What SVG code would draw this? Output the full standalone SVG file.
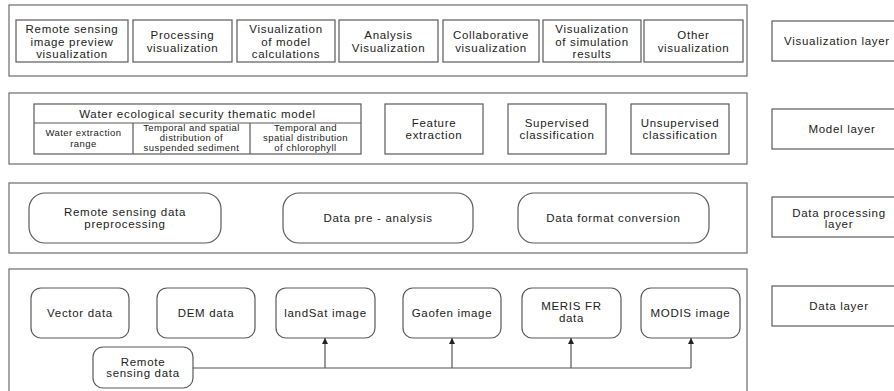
<svg xmlns="http://www.w3.org/2000/svg" width="894" height="391" viewBox="0 0 894 391">
<defs>
<style>
.outer{fill:none;stroke:#6b6b6b;stroke-width:1.2}
.box{fill:#fff;stroke:#5a5a5a;stroke-width:1.2}
.t{font-family:"Liberation Sans",Arial,sans-serif;font-size:11.5px;fill:#222;text-anchor:middle;letter-spacing:0.7px}
.s{font-family:"Liberation Sans",Arial,sans-serif;font-size:9.5px;fill:#222;text-anchor:middle;letter-spacing:0.45px}
.conn{fill:none;stroke:#555;stroke-width:1.2}
</style>
<marker id="arr" viewBox="0 0 10 10" refX="10" refY="5" markerWidth="6" markerHeight="6" orient="auto" markerUnits="userSpaceOnUse">
<path d="M0,0 L10,5 L0,10 z" fill="#222"/>
</marker>
</defs>
<rect width="894" height="391" fill="#fff"/>

<!-- Visualization layer -->
<g id="vis-layer">
<rect class="outer" x="9" y="5" width="738" height="71"/>
</g>
<g id="vis1"><rect class="box" x="16" y="20" width="112" height="42"/>
<text class="t" x="72" y="33">Remote sensing</text><text class="t" x="72" y="46">image preview</text><text class="t" x="72" y="58">visualization</text></g>
<g id="vis2"><rect class="box" x="133" y="20" width="99" height="42"/>
<text class="t" x="182.5" y="39">Processing</text><text class="t" x="182.5" y="52">visualization</text></g>
<g id="vis3"><rect class="box" x="237" y="20" width="98" height="42"/>
<text class="t" x="286" y="33">Visualization</text><text class="t" x="286" y="46">of model</text><text class="t" x="286" y="58">calculations</text></g>
<g id="vis4"><rect class="box" x="339" y="20" width="99" height="42"/>
<text class="t" x="388.5" y="39">Analysis</text><text class="t" x="388.5" y="52">Visualization</text></g>
<g id="vis5"><rect class="box" x="443" y="20" width="96" height="42"/>
<text class="t" x="491" y="39">Collaborative</text><text class="t" x="491" y="52">visualization</text></g>
<g id="vis6"><rect class="box" x="543" y="20" width="98" height="42"/>
<text class="t" x="592" y="33">Visualization</text><text class="t" x="592" y="46">of simulation</text><text class="t" x="592" y="58">results</text></g>
<g id="vis7"><rect class="box" x="644" y="20" width="99" height="42"/>
<text class="t" x="693.5" y="39">Other</text><text class="t" x="693.5" y="52">visualization</text></g>
<g id="label-vis"><rect class="box" x="772" y="21" width="130" height="40"/>
<text class="t" x="837" y="45">Visualization layer</text></g>

<!-- Model layer -->
<g id="model-layer"><rect class="outer" x="9" y="93" width="738" height="71"/></g>
<g id="wes-model">
<rect class="box" x="34" y="104" width="327" height="50"/>
<line class="box" x1="34" y1="123" x2="361" y2="123"/>
<line class="box" x1="133" y1="123" x2="133" y2="154"/>
<line class="box" x1="250" y1="123" x2="250" y2="154"/>
<text class="t" x="197.5" y="118">Water ecological security thematic model</text>
<text class="s" x="83.5" y="136">Water extraction</text><text class="s" x="83.5" y="147">range</text>
<text class="s" x="191.5" y="131">Temporal and spatial</text><text class="s" x="191.5" y="141">distribution of</text><text class="s" x="191.5" y="151">suspended sediment</text>
<text class="s" x="305.5" y="131">Temporal and</text><text class="s" x="305.5" y="141">spatial distribution</text><text class="s" x="305.5" y="151">of chlorophyll</text>
</g>
<g id="feature"><rect class="box" x="385" y="104" width="98" height="50"/>
<text class="t" x="434" y="127">Feature</text><text class="t" x="434" y="139">extraction</text></g>
<g id="supervised"><rect class="box" x="508" y="104" width="98" height="50"/>
<text class="t" x="557" y="127">Supervised</text><text class="t" x="557" y="139">classification</text></g>
<g id="unsupervised"><rect class="box" x="631" y="104" width="98" height="50"/>
<text class="t" x="680" y="127">Unsupervised</text><text class="t" x="680" y="139">classification</text></g>
<g id="label-model"><rect class="box" x="772" y="109" width="130" height="40"/>
<text class="t" x="842" y="133">Model layer</text></g>

<!-- Data processing layer -->
<g id="proc-layer"><rect class="outer" x="9" y="183" width="738" height="70"/></g>
<g id="rs-pre"><rect class="box" x="29" y="193" width="192" height="50" rx="16"/>
<text class="t" x="125" y="216">Remote sensing data</text><text class="t" x="125" y="228">preprocessing</text></g>
<g id="pre-analysis"><rect class="box" x="283" y="193" width="190" height="50" rx="16"/>
<text class="t" x="378" y="222">Data pre - analysis</text></g>
<g id="format-conv"><rect class="box" x="518" y="193" width="191" height="50" rx="16"/>
<text class="t" x="613.5" y="222">Data format conversion</text></g>
<g id="label-proc"><rect class="box" x="772" y="197" width="130" height="40"/>
<text class="t" x="839" y="217">Data processing</text><text class="t" x="839" y="228">layer</text></g>

<!-- Data layer -->
<g id="data-layer"><rect class="outer" x="9" y="269" width="738" height="130"/></g>
<g id="vector"><rect class="box" x="31" y="288" width="98" height="50" rx="10"/>
<text class="t" x="80" y="317">Vector data</text></g>
<g id="dem"><rect class="box" x="157" y="288" width="98" height="50" rx="10"/>
<text class="t" x="206" y="317">DEM data</text></g>
<g id="landsat"><rect class="box" x="276" y="288" width="99" height="50" rx="10"/>
<text class="t" x="325.5" y="317">landSat image</text></g>
<g id="gaofen"><rect class="box" x="403" y="288" width="98" height="50" rx="10"/>
<text class="t" x="452" y="317">Gaofen image</text></g>
<g id="meris"><rect class="box" x="522" y="288" width="99" height="50" rx="10"/>
<text class="t" x="571.5" y="310">MERIS FR</text><text class="t" x="571.5" y="322">data</text></g>
<g id="modis"><rect class="box" x="641" y="288" width="99" height="50" rx="10"/>
<text class="t" x="690.5" y="317">MODIS image</text></g>
<g id="rs-data"><rect class="box" x="93" y="347" width="100" height="41" rx="10"/>
<text class="t" x="143" y="366">Remote</text><text class="t" x="143" y="377">sensing data</text></g>
<g id="label-data"><rect class="box" x="772" y="286" width="130" height="40"/>
<text class="t" x="839" y="310">Data layer</text></g>

<g id="connectors">
<polyline class="conn" points="193,368 691,368"/>
<line class="conn" x1="325" y1="368" x2="325" y2="338" marker-end="url(#arr)"/>
<line class="conn" x1="452" y1="368" x2="452" y2="338" marker-end="url(#arr)"/>
<line class="conn" x1="571" y1="368" x2="571" y2="338" marker-end="url(#arr)"/>
<line class="conn" x1="691" y1="368" x2="691" y2="338" marker-end="url(#arr)"/>
</g>
</svg>
